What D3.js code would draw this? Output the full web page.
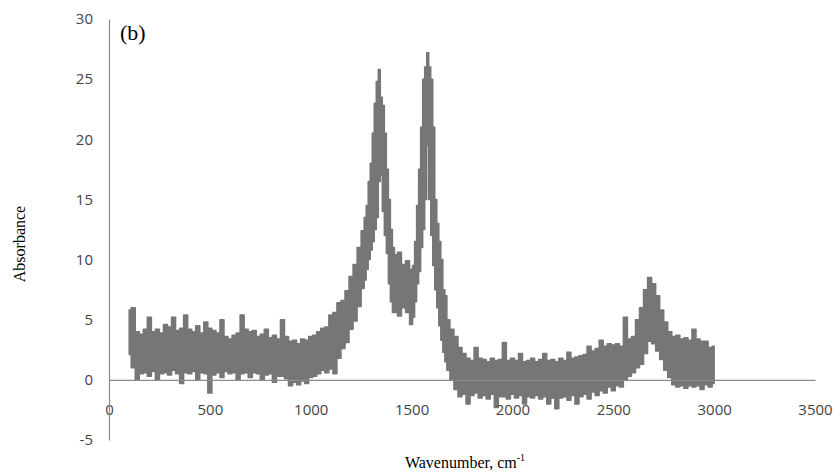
<!DOCTYPE html>
<html>
<head>
<meta charset="utf-8">
<script src="https://cdn.jsdelivr.net/npm/d3@7"></script>
<style>
  body { margin: 0; background: #fff; }
  .tick text { font-family: "Open Sans", sans-serif; font-size: 15px; fill: #444; }
  .title { font-family: "Liberation Serif", "Times New Roman", serif; fill: #000; }
</style>
</head>
<body>
<svg id="chart" width="836" height="474"></svg>
<script>
'use strict';

// spectrum: noisy band, so keep upper / lower edge per wavenumber
const wavenumber = [
  100, 120, 140, 160, 180, 200, 220, 240, 260, 280, 300, 320, 340, 360, 380, 400,
  420, 440, 460, 480, 500, 520, 540, 560, 580, 600, 620, 640, 660, 680, 700, 720,
  740, 760, 780, 800, 820, 840, 860, 880, 900, 920, 940, 960, 980, 1000, 1020, 1040,
  1060, 1080, 1100, 1120, 1140, 1160, 1180, 1200, 1220, 1240, 1260,
  1270, 1280, 1290, 1300, 1310, 1320, 1330, 1340, 1350, 1360, 1370, 1380, 1390, 1400, 1410, 1420,
  1440, 1460, 1480, 1500,
  1510, 1520, 1530, 1540, 1550, 1560, 1570, 1580, 1590, 1600, 1610, 1620, 1630, 1640, 1650, 1660, 1670, 1680,
  1700, 1720, 1740, 1760, 1780, 1800, 1820, 1840, 1860, 1880, 1900, 1920, 1940, 1960, 1980, 2000,
  2020, 2040, 2060, 2080, 2100, 2120, 2140, 2160, 2180, 2200, 2220, 2240, 2260, 2280, 2300, 2320,
  2340, 2360, 2380, 2400, 2420, 2440, 2460, 2480, 2500, 2520, 2540, 2560, 2580, 2600, 2620, 2640,
  2660, 2680, 2700, 2720, 2740, 2760, 2780, 2800, 2820, 2840, 2860, 2880, 2900, 2920, 2940, 2960,
  2980, 3000
];

const upperAbs = [
  5.8, 6.0, 4.0, 3.8, 4.2, 5.2, 4.0, 4.2, 3.9, 4.6, 4.4, 5.2, 4.1, 4.3, 5.4, 4.2,
  4.0, 4.5, 3.9, 4.8, 4.3, 4.1, 3.9, 5.0, 3.6, 3.4, 3.7, 3.9, 5.4, 4.2, 4.0, 4.1,
  3.6, 3.8, 4.2, 3.5, 3.7, 3.4, 5.0, 3.6, 3.2, 3.3, 3.0, 3.4, 3.3, 3.6, 3.7, 4.0,
  4.3, 4.4, 5.4, 5.6, 6.4, 6.6, 7.4, 8.6, 9.6, 11.0, 12.4,
  13.5, 14.5, 16.5, 18.0, 20.5, 23.0, 24.8, 25.8, 23.5, 22.8, 20.5, 17.5, 15.0, 12.5, 11.0, 10.4,
  10.6, 9.6, 9.9, 9.2,
  9.5, 11.5, 14.5, 17.5, 21.0, 25.0, 26.0, 27.2, 26.0, 25.0, 21.0, 15.0, 13.0, 11.5, 10.0, 7.5, 7.0, 5.0,
  4.2, 3.6, 2.7, 2.2, 1.8, 1.6, 2.7, 1.8, 1.7, 1.5, 1.8, 1.6, 1.7, 3.1, 1.6, 1.8,
  1.6, 2.2, 1.5, 1.6, 1.8, 1.5, 1.7, 2.2, 1.6, 1.7, 1.5, 1.8, 1.6, 2.3, 1.8, 1.9,
  2.0, 2.1, 2.8, 2.4, 2.6, 3.3, 2.8, 3.0, 2.9, 3.0, 2.8, 5.2, 3.4, 3.6, 5.0, 6.0,
  7.5, 8.5, 8.0, 7.0, 5.8, 4.8, 4.0, 3.6, 3.7, 3.4, 3.5, 3.3, 4.2, 3.4, 3.2, 3.2,
  2.7, 2.8
];

const lowerAbs = [
  2.1, 1.0, 0.0, 0.5, 0.6, 0.3, 0.7, 0.0, 0.5, 0.6, 0.4, 0.8, 0.5, -0.3, 0.6, 0.5,
  0.7, 0.0, 0.6, 0.5, -1.1, 0.4, 0.6, 0.2, 0.7, 0.5, 0.6, 0.0, 0.5, 0.6, 0.2, 0.6,
  0.5, 0.0, 0.4, 0.5, -0.2, 0.3, 0.3, 0.1, -0.5, -0.2, -0.4, -0.1, -0.3, 0.2, 0.3, 0.5,
  0.8, 0.6, 0.9, 0.5, 1.8, 2.6, 3.1, 4.2, 4.9, 6.1, 7.6,
  8.3, 9.2, 10.0, 10.8, 11.5, 12.5, 13.5, 16.5, 17.0, 14.0, 12.0, 10.5, 8.0, 6.5, 5.6, 5.6,
  5.3, 6.0, 5.6, 4.6,
  5.2, 6.5, 8.0, 9.0, 11.0, 12.5, 15.0, 19.5, 15.0, 12.0, 9.5, 7.5, 6.0, 4.5, 3.3, 2.3, 1.5, 0.8,
  0.0, -0.8, -1.4, -1.2, -2.0, -1.3, -1.1, -1.5, -1.3, -1.6, -1.2, -2.3, -1.4, -1.4, -1.6, -1.2,
  -1.5, -1.3, -2.0, -1.4, -1.5, -1.3, -1.6, -1.4, -2.0, -1.5, -2.4, -1.5, -1.4, -1.7, -1.3, -2.0,
  -1.4, -1.2, -1.6, -1.0, -1.3, -0.9, -1.1, -0.6, -0.9, -0.5, -0.6, 0.0, 0.3, 0.6, 1.0, 1.3,
  2.2, 3.2, 3.0, 2.4, 1.7, 0.8, 0.2, -0.4, -0.6, -0.5, -0.7, -0.5, -0.6, -0.5, -0.8, -0.4,
  -0.6, -0.3
];

const xTicks = [0, 500, 1000, 1500, 2000, 2500, 3000, 3500];
const yTicks = [-5, 0, 5, 10, 15, 20, 25, 30];

const svg = d3.select('#chart');

const plotLeft = 109, plotRight = 815, plotTop = 19, plotBottom = 440;

const x = d3.scaleLinear().domain([0, 3500]).range([plotLeft, plotRight]);
const y = d3.scaleLinear().domain([-5, 30]).range([plotBottom, plotTop]);

const points = wavenumber.map((w, i) => ({ w: w, hi: upperAbs[i], lo: lowerAbs[i] }));

// noisy trace as a filled band, stepped so the edges look ragged
const band = d3.area()
    .curve(d3.curveStep)
    .x(d => x(d.w))
    .y0(d => y(d.lo))
    .y1(d => y(d.hi));

svg.append('path')
    .datum(points)
    .attr('d', band)
    .attr('fill', '#767676')
    .attr('stroke', '#767676')
    .attr('stroke-width', 1.5)
    .attr('stroke-linejoin', 'round');

// plain numbers, ascii minus like the original
const plain = d => String(d);

// x axis sits on the zero line, labels dropped below
svg.append('g')
    .attr('transform', 'translate(0,' + y(0) + ')')
    .call(d3.axisBottom(x).tickValues(xTicks).tickFormat(plain).tickSize(0).tickPadding(25));

svg.append('g')
    .attr('transform', 'translate(' + plotLeft + ',0)')
    .call(d3.axisLeft(y).tickValues(yTicks).tickFormat(plain).tickSize(0).tickPadding(16));

svg.selectAll('.domain')
    .attr('stroke', '#8a8a8a')
    .attr('stroke-width', 1.2);

// titles
svg.append('text')
    .attr('class', 'title')
    .attr('x', 120)
    .attr('y', 40)
    .attr('font-size', 22)
    .text('(b)');

svg.append('text')
    .attr('class', 'title')
    .attr('transform', 'translate(25,244) rotate(-90)')
    .attr('text-anchor', 'middle')
    .attr('font-size', 16)
    .text('Absorbance');

const xTitle = svg.append('text')
    .attr('class', 'title')
    .attr('x', 465)
    .attr('y', 468)
    .attr('text-anchor', 'middle')
    .attr('font-size', 16);
xTitle.append('tspan').text('Wavenumber, cm');
xTitle.append('tspan').attr('dy', -7).attr('font-size', 10).text('-1');
</script>
</body>
</html>
